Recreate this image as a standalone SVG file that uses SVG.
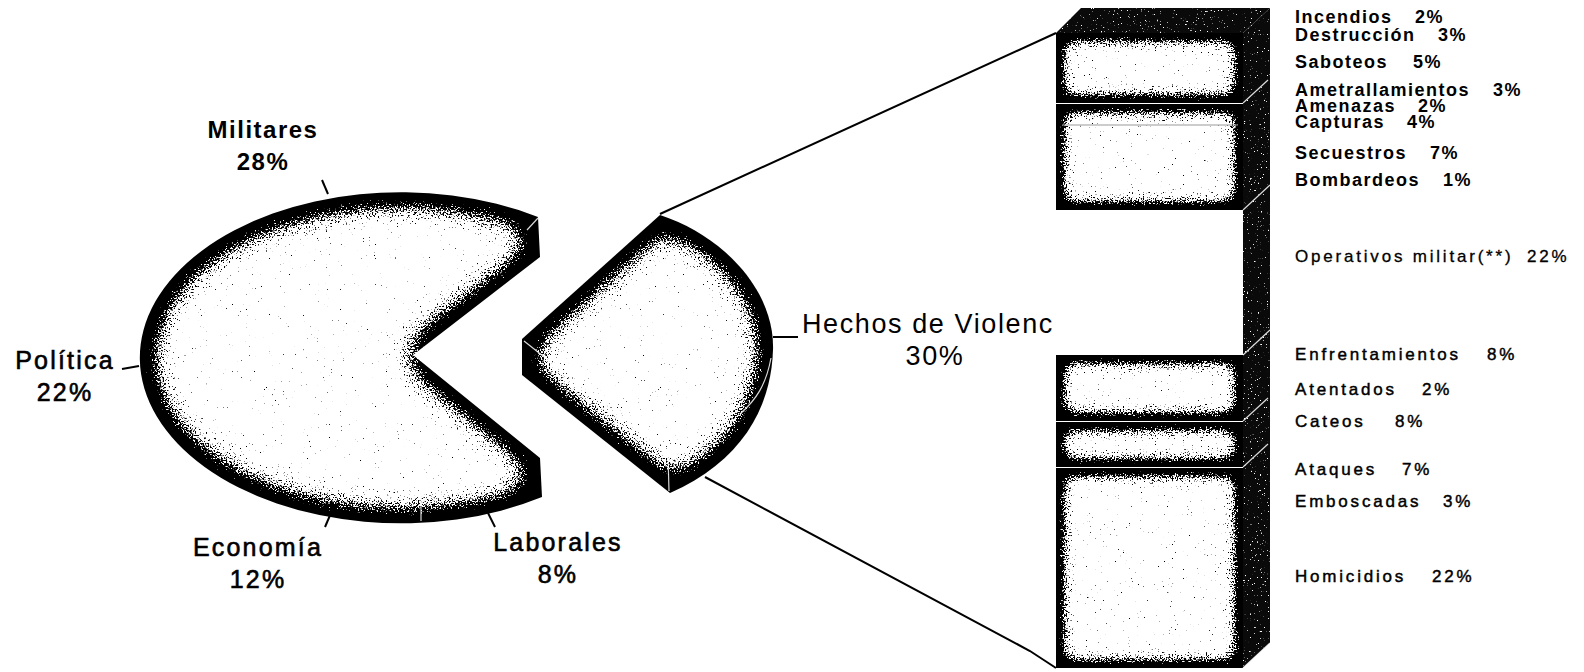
<svg xmlns="http://www.w3.org/2000/svg" width="1584" height="672" viewBox="0 0 1584 672">
<defs>
<filter id="shade" x="-5%" y="-5%" width="110%" height="110%" color-interpolation-filters="sRGB">
  <feGaussianBlur in="SourceAlpha" stdDeviation="18" result="blur"/>
  <feComponentTransfer in="blur" result="inv"><feFuncA type="linear" slope="-1" intercept="1"/></feComponentTransfer>
  <feTurbulence type="fractalNoise" baseFrequency="0.65" numOctaves="2" seed="7" result="noise"/>
  <feColorMatrix in="noise" type="matrix" values="0 0 0 0 0  0 0 0 0 0  0 0 0 0 0  1 0 0 0 0" result="n"/>
  <feComposite in="inv" in2="n" operator="arithmetic" k1="0" k2="20" k3="12" k4="-9.1" result="dots"/>
  <feComposite in="dots" in2="SourceAlpha" operator="in" result="clipped"/>
  <feMerge><feMergeNode in="SourceGraphic"/><feMergeNode in="clipped"/></feMerge>
</filter>
<filter id="shadeS" x="-5%" y="-5%" width="110%" height="110%" color-interpolation-filters="sRGB">
  <feGaussianBlur in="SourceAlpha" stdDeviation="10" result="blur"/>
  <feComponentTransfer in="blur" result="inv"><feFuncA type="linear" slope="-1" intercept="1"/></feComponentTransfer>
  <feTurbulence type="fractalNoise" baseFrequency="0.65" numOctaves="2" seed="11" result="noise"/>
  <feColorMatrix in="noise" type="matrix" values="0 0 0 0 0  0 0 0 0 0  0 0 0 0 0  1 0 0 0 0" result="n"/>
  <feComposite in="inv" in2="n" operator="arithmetic" k1="0" k2="20" k3="12" k4="-9.1" result="dots"/>
  <feComposite in="dots" in2="SourceAlpha" operator="in" result="clipped"/>
  <feMerge><feMergeNode in="SourceGraphic"/><feMergeNode in="clipped"/></feMerge>
</filter>
<filter id="side" x="0" y="0" width="100%" height="100%" color-interpolation-filters="sRGB">
  <feTurbulence type="fractalNoise" baseFrequency="0.7" numOctaves="2" seed="3" result="noise"/>
  <feColorMatrix in="noise" type="matrix" values="0 0 0 0 1  0 0 0 0 1  0 0 0 0 1  12 0 0 0 -8.4" result="w"/>
  <feComposite in="w" in2="SourceAlpha" operator="in" result="wc"/>
  <feMerge><feMergeNode in="SourceGraphic"/><feMergeNode in="wc"/></feMerge>
</filter>
<style>
.face{fill:#fff;filter:url(#shade)}
.faceS{fill:#fff;filter:url(#shadeS)}
.dark{fill:#0a0a0a;filter:url(#side)}
.edge{stroke:#fff;stroke-width:1.2;fill:none;opacity:0.85}
.tick{stroke:#000;stroke-width:2;fill:none}
.conn{stroke:#000;stroke-width:2;fill:none}
text{font-family:"Liberation Sans",Arial,Helvetica,sans-serif;fill:#000}
.pb{font-size:24px;font-weight:bold;letter-spacing:1.5px;text-anchor:middle}
.pm{font-size:25px;letter-spacing:2.2px;text-anchor:middle;stroke:#000;stroke-width:0.6}
.ph{font-size:27px;letter-spacing:1.6px}
.lb{font-size:18px;font-weight:bold;letter-spacing:1.5px}
.ll{font-size:17px;letter-spacing:2.8px;stroke:#000;stroke-width:0.45}
.lo{font-size:17px;letter-spacing:2.8px;stroke:#000;stroke-width:0.3}
</style>
</defs>

<g id="pie-main">
  <path class="face" d="M413,355 L540,257 L538,217 A261,165.5 0 1 0 542,497 L540,458 Z"/>
  <line class="edge" x1="421" y1="476" x2="421" y2="521"/>
  <line class="edge" x1="527" y1="230" x2="538" y2="218"/>
</g>

<g id="slice-hechos">
  <path class="face" d="M522,339 L660,215 C722,235 775,290 773,350 C771,410 740,462 670,493 L522,375 Z"/>
  <path class="edge" d="M524,341 L668,455 L669,491"/>
  <path class="edge" d="M771,358 C766,385 756,400 740,414"/>
</g>

<g id="bar">
  <path class="dark" d="M1056,33 L1081,8 L1270,8 L1243,33 Z"/>
  <path class="dark" d="M1243,33 L1270,8 L1270,643 L1243,668 Z"/>
  <rect class="faceS" x="1056" y="33" width="187" height="70"/>
  <rect class="faceS" x="1056" y="104" width="187" height="106"/>
  <line x1="1062" y1="125" x2="1238" y2="125" stroke="#999" stroke-width="1"/>
  <rect class="faceS" x="1056" y="355" width="187" height="66"/>
  <rect class="faceS" x="1056" y="422" width="187" height="45"/>
  <rect class="faceS" x="1056" y="468" width="187" height="200"/>
  <path class="edge" d="M1243,210 L1270,185 M1243,355 L1270,330 M1243,103 L1268,80 M1243,421 L1268,398 M1243,467 L1268,444 M1243,668 L1270,643"/>
</g>

<g id="connectors">
  <line class="conn" x1="660" y1="214" x2="1056" y2="33"/>
  <path class="conn" d="M705,477 L1030,651 L1056,668"/>
  <line class="tick" x1="322" y1="180" x2="328" y2="194"/>
  <line class="tick" x1="122" y1="369" x2="139" y2="366"/>
  <line class="tick" x1="331" y1="513" x2="325" y2="527"/>
  <line class="tick" x1="488" y1="513" x2="495" y2="527"/>
  <line class="tick" x1="773" y1="337" x2="798" y2="337"/>
</g>

<g id="pie-labels">
  <text class="pb" x="263" y="138">Militares</text>
  <text class="pb" x="263" y="170">28%</text>
  <text class="pm" x="65" y="369">Política</text>
  <text class="pm" x="65" y="401">22%</text>
  <text class="pm" x="258" y="556">Economía</text>
  <text class="pm" x="258" y="588">12%</text>
  <text class="pm" x="558" y="551">Laborales</text>
  <text class="pm" x="558" y="583">8%</text>
  <text class="ph" x="802" y="333">Hechos de Violenc</text>
  <text class="ph" x="935" y="365" text-anchor="middle">30%</text>
</g>

<g id="bar-labels">
  <text class="lb" x="1295" y="23">Incendios<tspan x="1415">2%</tspan></text>
  <text class="lb" x="1295" y="41">Destrucción<tspan x="1438">3%</tspan></text>
  <text class="lb" x="1295" y="68">Saboteos<tspan x="1413">5%</tspan></text>
  <text class="lb" x="1295" y="96">Ametrallamientos<tspan x="1493">3%</tspan></text>
  <text class="lb" x="1295" y="112">Amenazas<tspan x="1418">2%</tspan></text>
  <text class="lb" x="1295" y="128">Capturas<tspan x="1407">4%</tspan></text>
  <text class="lb" x="1295" y="159">Secuestros<tspan x="1430">7%</tspan></text>
  <text class="lb" x="1295" y="186">Bombardeos<tspan x="1443">1%</tspan></text>
  <text class="lo" x="1295" y="262">Operativos militar(**)<tspan x="1527">22%</tspan></text>
  <text class="ll" x="1295" y="360">Enfrentamientos<tspan x="1487">8%</tspan></text>
  <text class="ll" x="1295" y="395">Atentados<tspan x="1422">2%</tspan></text>
  <text class="ll" x="1295" y="427">Cateos<tspan x="1395">8%</tspan></text>
  <text class="ll" x="1295" y="475">Ataques<tspan x="1402">7%</tspan></text>
  <text class="ll" x="1295" y="507">Emboscadas<tspan x="1443">3%</tspan></text>
  <text class="ll" x="1295" y="582">Homicidios<tspan x="1432">22%</tspan></text>
</g>
</svg>
